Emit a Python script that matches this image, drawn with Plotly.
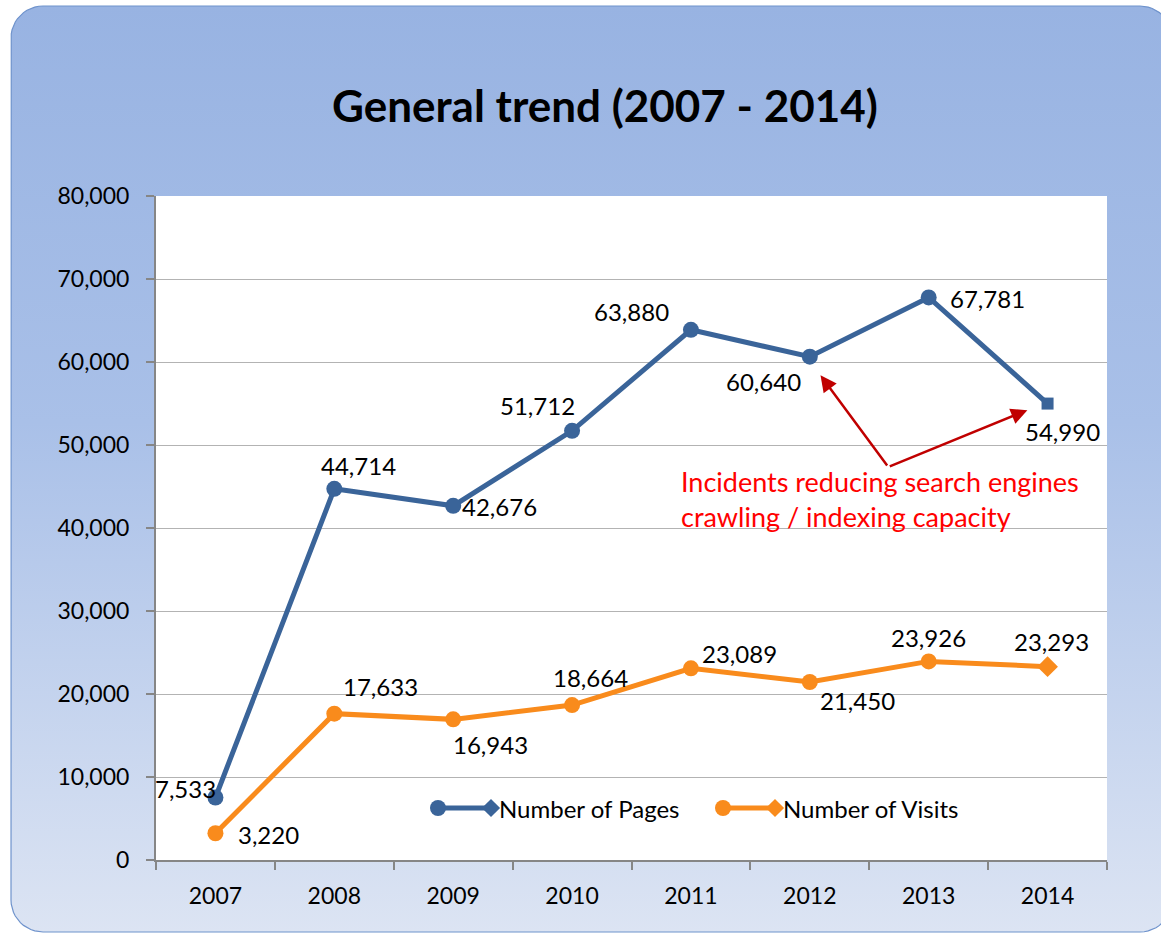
import plotly.graph_objects as go

W, H = 1161, 935

years = ["2007", "2008", "2009", "2010", "2011", "2012", "2013", "2014"]
pages = [7533, 44714, 42676, 51712, 63880, 60640, 67781, 54990]
visits = [3220, 17633, 16943, 18664, 23089, 21450, 23926, 23293]

# label offsets in pixels (dx, dy) relative to each point
pages_offsets = [(-30, -9), (24, -23), (46, 1), (-35, -25), (-59, -18), (-46, 25), (59, 1), (15, 28)]
visits_offsets = [(53, 1), (46, -27), (37, 25), (18, -28), (49, -15), (48, 19), (0, -24), (4, -25)]

BLUE = "#3A6499"
ORANGE = "#F98B1C"
FONT = "Lato"

PLOT_L, PLOT_R, PLOT_T, PLOT_B = 156, 1107, 196, 860


def rounded_rect(x0, y0, x1, y1, r, n=12):
    import math
    xs, ys = [], []
    corners = [
        (x1 - r, y0 + r, -90, 0),
        (x1 - r, y1 - r, 0, 90),
        (x0 + r, y1 - r, 90, 180),
        (x0 + r, y0 + r, 180, 270),
    ]
    for cx, cy, a0, a1 in corners:
        for i in range(n + 1):
            a = math.radians(a0 + (a1 - a0) * i / n)
            xs.append(cx + r * math.cos(a))
            ys.append(cy + r * math.sin(a))
    xs.append(xs[0])
    ys.append(ys[0])
    return xs, ys


fig = go.Figure()

# background panel (pixel-space axes)
bx, by = rounded_rect(11, 6, 1172, 932, 32)
fig.add_trace(go.Scatter(
    x=bx, y=by, mode="lines", fill="toself",
    line=dict(color="#6F93CC", width=1.2),
    fillgradient=dict(type="vertical",
                      colorscale=[[0, "#DCE4F3"], [0.55, "#A9C0E8"], [1, "#98B3E2"]]),
    hoverinfo="skip", showlegend=False, xaxis="x", yaxis="y",
))
fig.add_trace(go.Scatter(
    x=[PLOT_L, PLOT_R, PLOT_R, PLOT_L, PLOT_L],
    y=[PLOT_T, PLOT_T, PLOT_B, PLOT_B, PLOT_T],
    mode="lines", fill="toself", fillcolor="white", line=dict(width=0),
    hoverinfo="skip", showlegend=False, xaxis="x", yaxis="y",
))

# data series
fig.add_trace(go.Scatter(
    x=years, y=pages, mode="lines+markers", name="Number of Pages",
    line=dict(color=BLUE, width=5),
    marker=dict(color=BLUE, size=[16] * 7 + [12], symbol=["circle"] * 7 + ["square"],
                opacity=1, line=dict(width=0)),
    showlegend=False, xaxis="x2", yaxis="y2",
))
fig.add_trace(go.Scatter(
    x=years, y=visits, mode="lines+markers", name="Number of Visits",
    line=dict(color=ORANGE, width=5),
    marker=dict(color=ORANGE, size=[16] * 7 + [16], symbol=["circle"] * 7 + ["diamond"],
                opacity=1, line=dict(width=0)),
    showlegend=False, xaxis="x2", yaxis="y2",
))

# custom legend glyphs (pixel-space)
for x0, x1, col in [(438, 491, BLUE), (723, 775, ORANGE)]:
    fig.add_trace(go.Scatter(
        x=[x0, x1], y=[808, 808], mode="lines+markers",
        line=dict(color=col, width=5),
        marker=dict(color=col, size=[16, 14], symbol=["circle", "diamond"],
                    opacity=1, line=dict(width=0)),
        hoverinfo="skip", showlegend=False, xaxis="x", yaxis="y",
    ))

annotations = []
for series, offs in [(pages, pages_offsets), (visits, visits_offsets)]:
    for i, (v, (dx, dy)) in enumerate(zip(series, offs)):
        annotations.append(dict(
            x=i, y=v, xref="x2", yref="y2", text=f"{v:,}",
            showarrow=False, xshift=dx, yshift=-dy,
            font=dict(family=FONT, size=24, color="black"),
        ))

# title
annotations.append(dict(
    x=605 / W, y=1 - 105 / H, xref="paper", yref="paper", yanchor="middle",
    text="<b>General trend (2007 - 2014)</b>", showarrow=False,
    font=dict(family=FONT, size=44, color="black"),
))

# legend texts
for xt, txt in [(497, "Number of Pages"), (781, "Number of Visits")]:
    annotations.append(dict(
        x=xt / W, y=1 - 808 / H, xref="paper", yref="paper",
        xanchor="left", yanchor="middle",
        text=txt, showarrow=False, font=dict(family=FONT, size=24, color="black"),
    ))

# incident note + arrows
annotations.append(dict(
    x=679 / W, y=1 - 499 / H, xref="paper", yref="paper",
    xanchor="left", yanchor="middle", align="left",
    text="Incidents reducing search engines<br>crawling / indexing capacity",
    showarrow=False, font=dict(family=FONT, size=27, color="#FF0000"),
))
for hx, hy in [(5.09, 58400), (6.83, 54200)]:
    annotations.append(dict(
        x=hx, y=hy, xref="x2", yref="y2", ax=5.66, ay=47350, axref="x2", ayref="y2",
        showarrow=True, arrowhead=2, arrowsize=1.3, arrowwidth=2.5, arrowcolor="#C00000",
        text="",
    ))

fig.update_layout(
    width=W, height=H,
    margin=dict(l=0, r=0, t=0, b=0, autoexpand=False),
    paper_bgcolor="white", plot_bgcolor="rgba(0,0,0,0)",
    xaxis=dict(domain=[0, 1], range=[0, W], visible=False, fixedrange=True, automargin=False),
    yaxis=dict(domain=[0, 1], range=[H, 0], visible=False, fixedrange=True, automargin=False),
    xaxis2=dict(
        domain=[PLOT_L / W, PLOT_R / W], anchor="y2", type="category", automargin=False,
        range=[-0.5, 7.5], tickson="boundaries", ticks="outside", ticklen=8,
        tickcolor="#868686", tickwidth=2, showline=True, linecolor="#868686", linewidth=2,
        showgrid=False, ticklabelstandoff=14,
        tickfont=dict(family=FONT, size=23, color="black"),
    ),
    yaxis2=dict(
        domain=[1 - PLOT_B / H, 1 - PLOT_T / H], anchor="x2", automargin=False,
        range=[0, 80000], dtick=10000, tickformat=",", ticks="outside", ticklen=8,
        tickcolor="#868686", tickwidth=2, showline=True, linecolor="#868686", linewidth=2,
        showgrid=True, gridcolor="#B3B3B3", gridwidth=1.3, zeroline=False,
        ticklabelstandoff=12,
        tickfont=dict(family=FONT, size=23, color="black"),
    ),
    annotations=annotations,
)

# page has a default 8px body margin; remove it so the figure sits at the window origin
fig.write_html("out.html", config={"displayModeBar": False},
               post_script="document.body.style.margin='0';")
